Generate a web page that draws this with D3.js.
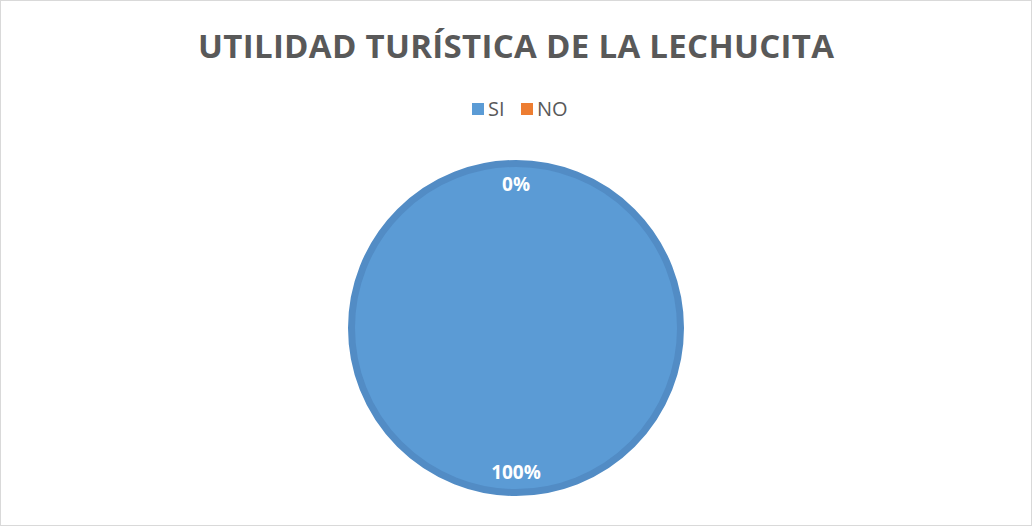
<!DOCTYPE html>
<html>
<head>
<meta charset="utf-8">
<script src="https://cdn.jsdelivr.net/npm/d3@7"></script>
<style>
  html, body { margin: 0; padding: 0; background: #fff; }
  svg { display: block; font-family: "Open Sans", "Noto Sans", sans-serif; }
</style>
</head>
<body>
<div id="chart"></div>
<script>
const title = 'UTILIDAD TURÍSTICA DE LA LECHUCITA';
const categories = ['SI', 'NO'];
const values = [100, 0];
const colors = ['#5b9bd5', '#ed7d31'];

const width = 1032, height = 526;
const cx = 516, cy = 328, radius = 168;

const svg = d3.select('#chart').append('svg')
  .attr('width', width)
  .attr('height', height);

// outer frame
svg.append('rect')
  .attr('x', 0.5).attr('y', 0.5)
  .attr('width', width - 1).attr('height', height - 1)
  .attr('fill', '#fff')
  .attr('stroke', '#d9d9d9');

svg.append('text')
  .attr('x', cx)
  .attr('y', 58)
  .attr('text-anchor', 'middle')
  .attr('font-size', 33)
  .attr('font-weight', 'bold')
  .attr('fill', '#595959')
  .attr('textLength', 636)
  .attr('lengthAdjust', 'spacing')
  .text(title);

// legend
const legendX = [472, 521];
const legend = svg.selectAll('.legend')
  .data(categories)
  .enter()
  .append('g')
  .attr('class', 'legend')
  .attr('transform', (d, i) => `translate(${legendX[i]},103)`);

legend.append('rect')
  .attr('width', 12)
  .attr('height', 12)
  .attr('fill', (d, i) => colors[i]);

legend.append('text')
  .attr('x', 16)
  .attr('y', 13)
  .attr('font-size', 20)
  .attr('fill', '#595959')
  .text(d => d);

const pie = d3.pie().sort(null).startAngle(0).endAngle(2 * Math.PI);
const arcs = pie(values);

const g = svg.append('g').attr('transform', `translate(${cx},${cy})`);

const arc = d3.arc().innerRadius(0).outerRadius(radius - 3.5);

g.selectAll('.slice')
  .data(arcs)
  .enter()
  .append('path')
  .attr('class', 'slice')
  .attr('d', arc)
  .attr('fill', (d, i) => colors[i])
  .attr('stroke', (d, i) => i === 0 ? '#528cc5' : 'none')
  .attr('stroke-width', 7);

const labelArc = d3.arc().innerRadius(144).outerRadius(144);
const total = d3.sum(values);

g.selectAll('.label')
  .data(arcs)
  .enter()
  .append('text')
  .attr('class', 'label')
  .attr('transform', d => `translate(${labelArc.centroid(d)})`)
  .attr('text-anchor', 'middle')
  .attr('dy', '0.35em')
  .attr('font-size', 19)
  .attr('font-weight', 'bold')
  .attr('fill', '#fff')
  .text(d => Math.round(d.data / total * 100) + '%');
</script>
</body>
</html>
